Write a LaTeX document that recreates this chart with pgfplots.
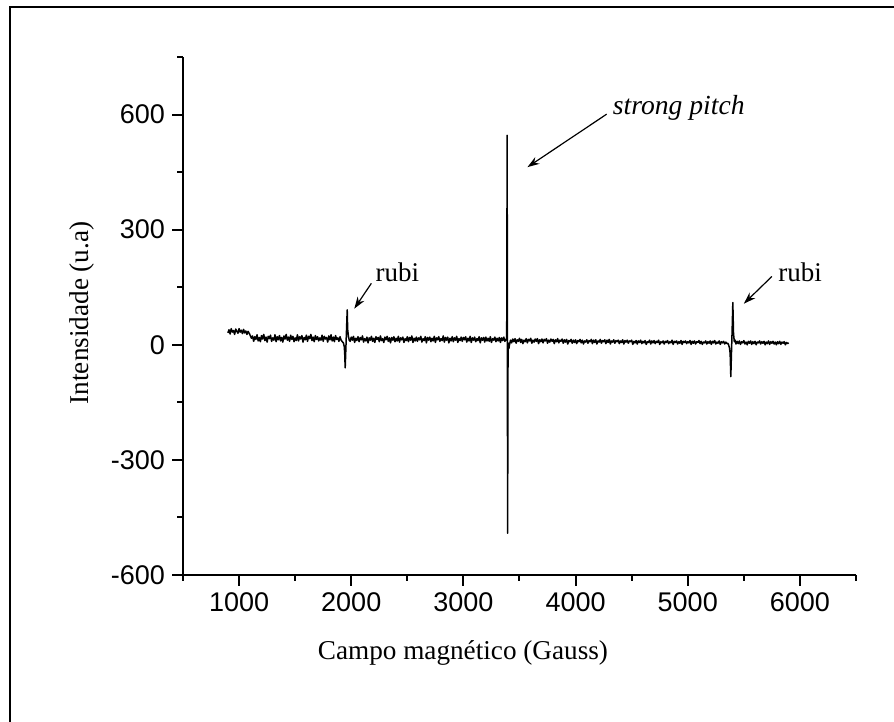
\documentclass[border=0pt]{standalone}
\usepackage{fontspec}
\setmainfont{Liberation Serif}
\newfontfamily\arial{Liberation Sans}
\usepackage{pgfplots}
\pgfplotsset{compat=1.18}
\usetikzlibrary{arrows.meta}
\begin{document}
\begin{tikzpicture}
\useasboundingbox (0,0) rectangle (447pt,361pt);
\draw[line width=1pt] (5pt,-20pt) -- (5pt,357.5pt) -- (470pt,357.5pt);
\begin{axis}[
  at={(91.5pt,73.5pt)}, anchor=south west,
  scale only axis, width=336.5pt, height=259pt,
  axis lines*=left,
  axis line style={line width=1pt},
  xmin=500, xmax=6500, ymin=-600, ymax=750,
  xtick={1000,2000,3000,4000,5000,6000},
  xticklabels={1000,2000,3000,4000,5000,6000},
  minor xtick={500,1500,2500,3500,4500,5500,6500},
  ytick={-600,-300,0,300,600},
  yticklabels={-600,-300,0,300,600},
  minor ytick={-450,-150,150,450,750},
  tick align=outside,
  major tick length=5.5pt, minor tick length=3pt,
  every tick/.style={line width=1pt, black},
  tick label style={font=\arial\fontsize{13.5}{16}\selectfont},
  label style={font=\fontsize{13.6}{16}\selectfont},
  xlabel={Campo magnético (Gauss)},
  ylabel={Intensidade (u.a)},
  xlabel style={at={(axis description cs:0.416,-0.1506)}, anchor=center},
  ylabel style={at={(axis description cs:-0.150,0.506)}, anchor=center},
  clip=false,
]
\addplot[black, line width=0.75pt, line join=round] coordinates {
(900,31)(910,39)(920,28)(930,42)(940,33)(950,37)(960,27)(970,41)(980,35)(990,30)
(1000,42)(1010,33)(1020,38)(1030,29)(1040,40)(1050,31)(1060,36)(1070,27)(1080,35)(1090,30)
(1100,24)(1110,17)
(1120,23)(1130,9)(1140,21)(1150,14)(1160,26)(1170,10)(1180,19)(1190,8)(1200,24)(1210,15)
(1220,27)(1230,11)(1240,20)(1250,7)(1260,22)(1270,16)(1280,25)(1290,9)(1300,18)(1310,12)
(1320,26)(1330,8)(1340,21)(1350,13)(1360,24)(1370,10)(1380,19)(1390,7)(1400,23)(1410,15)
(1420,27)(1430,12)(1440,20)(1450,9)(1460,25)(1470,14)(1480,22)(1490,8)(1500,18)(1510,11)
(1520,26)(1530,10)(1540,21)(1550,15)(1560,24)(1570,7)(1580,19)(1590,13)(1600,25)(1610,9)
(1620,22)(1630,16)(1640,27)(1650,11)(1660,20)(1670,8)(1680,24)(1690,14)(1700,21)(1710,10)
(1720,18)(1730,12)(1740,25)(1750,9)(1760,22)(1770,15)(1780,19)(1790,7)(1800,23)(1810,13)
(1820,26)(1830,10)(1840,20)(1850,8)(1860,24)(1870,14)(1880,18)(1890,9)(1900,21)(1910,12)
(1920,8)(1930,5)(1938,-5)(1942,-25)(1946,-60)(1952,-10)(1958,40)(1964,91)(1968,40)(1975,22)(1982,12)
(1990,9)(2000,20)(2010,12)(2020,22)(2030,6)(2040,17)(2050,11)(2060,21)(2070,8)(2080,19)
(2090,13)(2100,23)(2110,7)(2120,16)(2130,10)(2140,20)(2150,5)(2160,18)(2170,12)(2180,22)
(2190,9)(2200,17)(2210,6)(2220,21)(2230,14)(2240,19)(2250,8)(2260,23)(2270,11)(2280,16)
(2290,6)(2300,20)(2310,13)(2320,22)(2330,9)(2340,18)(2350,5)(2360,19)(2370,12)(2380,21)
(2390,8)(2400,17)(2410,10)(2420,22)(2430,7)(2440,18)(2450,13)(2460,20)(2470,6)(2480,16)
(2490,11)(2500,21)(2510,8)(2520,19)(2530,12)(2540,23)(2550,6)(2560,17)(2570,10)(2580,20)
(2590,9)(2600,18)(2610,13)(2620,22)(2630,7)(2640,16)(2650,11)(2660,21)(2670,5)(2680,19)
(2690,12)(2700,20)(2710,8)(2720,17)(2730,10)(2740,22)(2750,6)(2760,18)(2770,13)(2780,21)
(2790,9)(2800,16)(2810,11)(2820,23)(2830,7)(2840,19)(2850,12)(2860,20)(2870,5)(2880,17)
(2890,10)(2900,21)(2910,8)(2920,18)(2930,12)(2940,22)(2950,6)(2960,16)(2970,11)(2980,20)
(2990,9)(3000,19)(3010,13)(3020,21)(3030,7)(3040,17)(3050,10)(3060,22)(3070,6)(3080,18)
(3090,12)(3100,20)(3110,8)(3120,16)(3130,11)(3140,21)(3150,5)(3160,18)(3170,12)(3180,19)
(3190,7)(3200,20)(3210,10)(3220,17)(3230,9)(3240,21)(3250,6)(3260,16)(3270,12)(3280,20)
(3290,8)(3300,17)(3310,10)(3320,19)(3330,6)(3340,18)(3350,11)(3360,20)(3370,9)(3378,13)
(3386,16)(3390,546)(3394,-491)(3398,5)(3405,-10)(3412,2)(3420,12)
(3430,5)(3440,15)(3450,8)(3460,16)(3470,4)(3480,13)(3490,9)(3500,17)(3510,6)(3520,14)
(3530,3)(3540,12)(3550,8)(3560,16)(3570,5)(3580,14)(3590,10)(3600,17)(3610,4)(3620,12)
(3630,7)(3640,15)(3650,9)(3660,16)(3670,3)(3680,13)(3690,8)(3700,15)(3710,5)(3720,14)
(3730,10)(3740,16)(3750,4)(3760,12)(3770,7)(3780,15)(3790,9)(3800,14)(3810,3)(3820,13)
(3830,8)(3840,16)(3850,5)(3860,12)(3870,9)(3880,15)(3890,4)(3900,13)(3910,7)(3920,14)
(3930,2)(3940,11)(3950,8)(3960,14)(3970,4)(3980,12)(3990,6)(4000,13)(4010,3)(4020,11)
(4030,8)(4040,14)(4050,5)(4060,12)(4070,2)(4080,10)(4090,7)(4100,13)(4110,4)(4120,11)
(4130,8)(4140,14)(4150,3)(4160,12)(4170,6)(4180,13)(4190,2)(4200,10)(4210,7)(4220,14)
(4230,4)(4240,11)(4250,8)(4260,13)(4270,3)(4280,12)(4290,6)(4300,14)(4310,2)(4320,10)
(4330,7)(4340,13)(4350,4)(4360,11)(4370,8)(4380,12)(4390,3)(4400,10)(4410,6)(4420,13)
(4430,2)(4440,11)(4450,7)(4460,12)(4470,4)(4480,10)(4490,8)(4500,12)(4510,1)(4520,9)
(4530,5)(4540,11)(4550,2)(4560,10)(4570,6)(4580,12)(4590,3)(4600,9)(4610,5)(4620,11)
(4630,1)(4640,8)(4650,6)(4660,12)(4670,2)(4680,10)(4690,5)(4700,11)(4710,3)(4720,9)
(4730,6)(4740,12)(4750,1)(4760,8)(4770,5)(4780,10)(4790,2)(4800,9)(4810,6)(4820,11)
(4830,3)(4840,8)(4850,5)(4860,12)(4870,1)(4880,9)(4890,6)(4900,10)(4910,2)(4920,8)
(4930,4)(4940,11)(4950,1)(4960,9)(4970,6)(4980,10)(4990,3)(5000,8)(5010,5)(5020,11)
(5030,1)(5040,9)(5050,4)(5060,10)(5070,2)(5080,8)(5090,6)(5100,11)(5110,3)(5120,9)
(5130,1)(5140,7)(5150,5)(5160,10)(5170,2)(5180,8)(5190,4)(5200,10)(5210,1)(5220,9)
(5230,5)(5240,11)(5250,2)(5260,7)(5270,4)(5280,10)(5290,1)(5300,8)(5310,5)(5320,9)
(5330,2)(5340,7)(5350,3)(5358,4)
(5364,0)(5372,-8)(5378,-22)(5384,-83)(5390,-20)(5396,40)(5402,110)(5408,30)(5415,8)(5422,12)
(5430,2)(5440,9)(5450,3)(5460,10)(5470,1)(5480,8)(5490,5)(5500,11)(5510,2)(5520,7)
(5530,0)(5540,9)(5550,4)(5560,10)(5570,1)(5580,8)(5590,3)(5600,9)(5610,0)(5620,7)
(5630,5)(5640,10)(5650,2)(5660,8)(5670,4)(5680,9)(5690,0)(5700,7)(5710,3)(5720,10)
(5730,1)(5740,8)(5750,4)(5760,9)(5770,2)(5780,7)(5790,0)(5800,8)(5810,3)(5820,9)
(5830,1)(5840,7)(5850,4)(5860,8)(5870,0)(5880,6)(5890,3)(5900,5)
};
\draw[line width=0.6pt, -{Stealth[length=6pt,width=4pt]}] (axis cs:4277,601) -- (axis cs:3571,463);
\node[anchor=base west, inner sep=0pt, font=\itshape\fontsize{13.8}{16}\selectfont] at (axis cs:4330,601) {strong pitch};
\draw[line width=0.6pt, -{Stealth[length=6pt,width=4pt]}] (axis cs:2179,160) -- (axis cs:2027,94);
\node[anchor=base west, inner sep=0pt, font=\fontsize{13.5}{16}\selectfont] at (axis cs:2214,165) {rubi};
\draw[line width=0.6pt, -{Stealth[length=6pt,width=4pt]}] (axis cs:5750,178) -- (axis cs:5500,107);
\node[anchor=base west, inner sep=0pt, font=\fontsize{13.5}{16}\selectfont] at (axis cs:5804,165) {rubi};
\end{axis}
\end{tikzpicture}
\end{document}
